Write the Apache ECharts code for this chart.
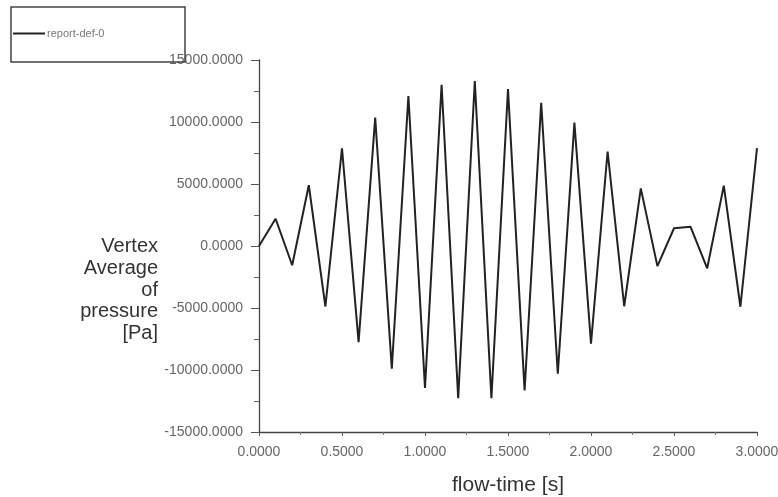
<!DOCTYPE html>
<html>
<head>
<meta charset="utf-8">
<title>report-def-0</title>
<script src="https://cdn.jsdelivr.net/npm/echarts@6/dist/echarts.min.js"></script>
<style>
  html, body { margin: 0; padding: 0; background: #fff; }
  #chart { width: 778px; height: 497px; }
</style>
</head>
<body>
<div id="chart"></div>
<script>
// Sampled flow time [s], one sample every 0.1 s
const flowTime = [
  0.0, 0.1, 0.2, 0.3, 0.4, 0.5, 0.6, 0.7, 0.8, 0.9,
  1.0, 1.1, 1.2, 1.3, 1.4, 1.5, 1.6, 1.7, 1.8, 1.9,
  2.0, 2.1, 2.2, 2.3, 2.4, 2.5, 2.6, 2.7, 2.8, 2.9, 3.0
];

// Vertex average of pressure [Pa] reported at each time
const pressure = [
  0, 2200, -1550, 4900, -4880, 7880, -7750, 10350, -9900, 12100,
  -11450, 13000, -12280, 13300, -12280, 12650, -11650, 11550, -10300, 9950,
  -7870, 7620, -4860, 4650, -1620, 1430, 1550, -1800, 4870, -4900, 7900
];

const seriesName = 'report-def-0';
const yTitle = 'Vertex\nAverage\nof\npressure\n[Pa]';
const xTitle = 'flow-time [s]';

const points = flowTime.map((t, i) => [t, pressure[i]]);

const font = 'Liberation Sans, Arial, sans-serif';
const chart = echarts.init(document.getElementById('chart'), null, { renderer: 'canvas' });

chart.setOption({
  animation: false,
  backgroundColor: '#fff',
  grid: {
    left: 259, right: 21, top: 60, bottom: 65,
    containLabel: false,
    outerBoundsMode: 'none'
  },
  legend: {
    left: 13, top: 28,
    itemWidth: 32, itemHeight: 2, itemGap: 0, padding: 0,
    icon: 'rect',
    data: [seriesName],
    textStyle: { fontFamily: font, fontSize: 11, color: '#777', padding: [0, 0, 0, -3] }
  },
  xAxis: {
    type: 'value',
    min: 0, max: 3, interval: 0.5,
    name: xTitle,
    nameLocation: 'middle',
    nameGap: 43,
    nameTextStyle: { fontFamily: font, fontSize: 21, color: '#333' },
    axisLine: { show: true, onZero: false, lineStyle: { color: '#444', width: 1.3 } },
    axisTick: { show: true, inside: false, length: 4, lineStyle: { color: '#555' } },
    minorTick: { show: true, splitNumber: 2, length: 3, lineStyle: { color: '#777' } },
    splitLine: { show: false },
    axisLabel: {
      fontFamily: font, fontSize: 14, color: '#666', margin: 13,
      formatter: v => v.toFixed(4)
    }
  },
  yAxis: {
    type: 'value',
    min: -15000, max: 15000, interval: 5000,
    axisLine: { show: true, onZero: false, lineStyle: { color: '#444', width: 1.3 } },
    axisTick: { show: true, inside: false, length: 8, lineStyle: { color: '#555' } },
    minorTick: { show: true, splitNumber: 2, length: 5, lineStyle: { color: '#666' } },
    splitLine: { show: false },
    axisLabel: {
      fontFamily: font, fontSize: 14, color: '#666', margin: 16,
      formatter: v => v.toFixed(4)
    }
  },
  graphic: [
    {
      type: 'rect',
      shape: { x: 11, y: 7, width: 174, height: 55 },
      style: { fill: 'rgba(0,0,0,0)', stroke: '#444', lineWidth: 1.5 },
      z: 100
    },
    {
      type: 'text',
      x: 158, y: 236,
      style: {
        text: yTitle,
        font: '20px ' + font,
        fill: '#333',
        align: 'right',
        verticalAlign: 'top',
        lineHeight: 21.7
      }
    }
  ],
  series: [{
    name: seriesName,
    type: 'line',
    data: points,
    symbol: 'none',
    lineStyle: { color: '#222', width: 2 },
    itemStyle: { color: '#222' }
  }]
});
</script>
</body>
</html>
